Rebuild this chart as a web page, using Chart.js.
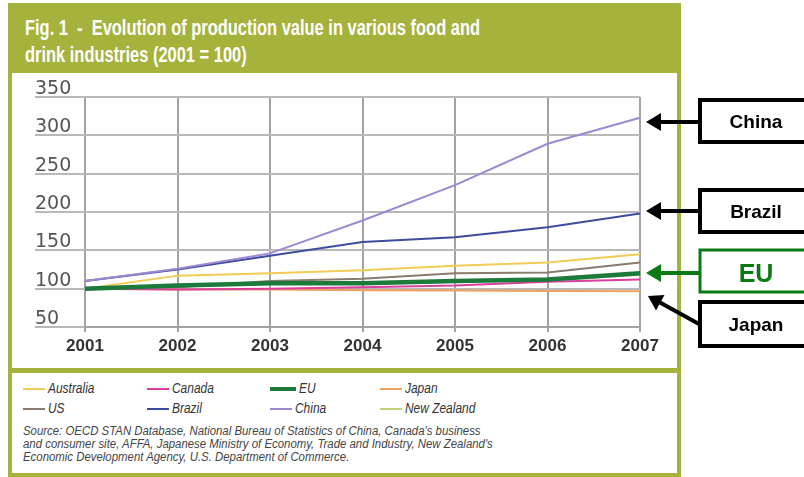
<!DOCTYPE html>
<html>
<head>
<meta charset="utf-8">
<script src="https://cdn.jsdelivr.net/npm/chart.js@4/dist/chart.umd.min.js"></script>
<style>
  body { margin: 0; width: 804px; height: 477px; background: #fff; position: relative; overflow: hidden; font-family: "Liberation Sans", Arial, sans-serif; }
  .frame { position: absolute; left: 8px; top: 3px; width: 673px; height: 474px; background: #a5b23c; }
  .title { position: absolute; left: 25px; top: 14px; color: #fff; font-weight: bold; font-size: 22px; line-height: 27px; }
  .title span { display: block; white-space: pre; transform-origin: 0 50%; }
  .plot { position: absolute; left: 12px; top: 73px; width: 665px; height: 295px; background: #fff; }
  .legend { position: absolute; left: 12px; top: 373px; width: 665px; height: 100px; background: #fff; }
  .key { position: absolute; height: 18px; }
  .key i { position: absolute; left: 0; }
  .key span { position: absolute; top: 0; font-style: italic; font-size: 15.5px; line-height: 18px; color: #333; white-space: nowrap; transform: scaleX(0.77); transform-origin: 0 50%; }
  .source { position: absolute; left: 11px; top: 52px; font-style: italic; font-size: 12px; line-height: 13px; color: #444; white-space: pre; transform: scaleX(0.95); transform-origin: 0 0; }
  svg { position: absolute; left: 0; top: 0; }
</style>
</head>
<body>
<div class="frame"></div>
<div class="title" id="title"><span>Fig. 1  -  Evolution of production value in various food and</span><span>drink industries (2001 = 100)</span></div>
<div class="plot"><canvas id="growthChart" width="665" height="295"></canvas></div>
<div class="legend" id="legend">
  <div class="source">Source: OECD STAN Database, National Bureau of Statistics of China, Canada's business
and consumer site, AFFA, Japanese Ministry of Economy, Trade and Industry, New Zealand's
Economic Development Agency, U.S. Department of Commerce.</div>
</div>
<svg width="804" height="477">
  <g font-family="Liberation Sans, Arial, sans-serif" font-weight="bold" text-anchor="middle">
    <rect x="700" y="100" width="112" height="42" fill="#fff" stroke="#000" stroke-width="4"/>
    <text x="756" y="128" font-size="19">China</text>
    <line x1="699" y1="122" x2="660" y2="122" stroke="#000" stroke-width="4"/>
    <polygon points="646,122 661,113 661,131" fill="#000"/>

    <rect x="700" y="190" width="112" height="42" fill="#fff" stroke="#000" stroke-width="4"/>
    <text x="756" y="218" font-size="19">Brazil</text>
    <line x1="699" y1="211" x2="660" y2="211" stroke="#000" stroke-width="4"/>
    <polygon points="646,211 661,202 661,220" fill="#000"/>

    <rect x="700" y="250" width="112" height="42" fill="#fff" stroke="#0a7a12" stroke-width="3"/>
    <text x="756" y="282" font-size="25" fill="#0a7a12">EU</text>
    <line x1="699" y1="273" x2="660" y2="273" stroke="#0a7a12" stroke-width="4"/>
    <polygon points="646,273 661,264 661,282" fill="#0a7a12"/>

    <rect x="700" y="302" width="112" height="44" fill="#fff" stroke="#000" stroke-width="4"/>
    <text x="756" y="331" font-size="19">Japan</text>
    <line x1="699" y1="324" x2="660" y2="302.5" stroke="#000" stroke-width="4"/>
    <polygon points="648,296 664.5,295 656,310.5" fill="#000"/>
  </g>
</svg>
<script>
  const years = ["2001", "2002", "2003", "2004", "2005", "2006", "2007"];

  const australia = [100, 117, 120, 124, 130, 134, 145];
  const canada = [100, 99, 100, 102, 104, 109, 112];
  const eu = [100, 104, 107, 107, 110, 112, 120];
  const japan = [100, 99, 99, 98, 97.5, 97, 96.5];
  const us = [100, 102, 110, 113, 120, 121, 134];
  const brazil = [110, 125, 143, 161, 167, 180, 198];
  const china = [110, 126, 146, 189, 235, 289, 323];
  const newZealand = [100, 103, 106, 106, 109, 111, 118];

  const yTicks = [50, 100, 150, 200, 250, 300, 350];

  // legend order (two rows of four)
  const series = [
    { name: "Australia", data: australia, color: "#f3cc55", width: 2 },
    { name: "Canada", data: canada, color: "#d9409e", width: 2 },
    { name: "EU", data: eu, color: "#1c7a3a", width: 4.5 },
    { name: "Japan", data: japan, color: "#eea160", width: 2 },
    { name: "US", data: us, color: "#8a7b6c", width: 2 },
    { name: "Brazil", data: brazil, color: "#3d4c9e", width: 2 },
    { name: "China", data: china, color: "#9d88d2", width: 2 },
    { name: "New Zealand", data: newZealand, color: "#c2d07e", width: 2 }
  ];

  // first dataset is painted last, so EU goes up front
  const drawOrder = ["EU", "Canada", "China", "Brazil", "Australia", "US", "Japan", "New Zealand"];

  // squeeze the title into its condensed width
  const titleLines = document.querySelectorAll("#title span");
  const titleScale = 455 / titleLines[0].getBoundingClientRect().width;
  titleLines.forEach(l => { l.style.transform = `scaleX(${titleScale})`; });

  const legendCols = [11, 135, 258, 368];
  const legend = document.getElementById("legend");
  series.forEach((s, i) => {
    const key = document.createElement("div");
    key.className = "key";
    key.style.left = legendCols[i % 4] + "px";
    key.style.top = (i < 4 ? 6 : 26) + "px";
    const w = s.name === "EU" ? 26 : 22;
    const h = s.width > 3 ? 4 : 2;
    key.innerHTML = `<i style="width:${w}px;height:${h}px;top:${10 - h / 2}px;background:${s.color}"></i>` +
      `<span style="left:${w + 3}px">${s.name}</span>`;
    legend.appendChild(key);
  });

  const datasets = drawOrder.map(n => {
    const s = series.find(x => x.name === n);
    return {
      label: s.name,
      data: s.data,
      borderColor: s.color,
      borderWidth: s.width,
      pointRadius: 0,
      tension: 0,
      fill: false
    };
  });

  new Chart(document.getElementById("growthChart"), {
    type: "line",
    data: { labels: years, datasets },
    options: {
      responsive: false,
      animation: false,
      layout: { padding: { left: 23, top: 24, right: 37, bottom: 11 } },
      plugins: { legend: { display: false }, tooltip: { enabled: false } },
      scales: {
        x: {
          grid: { color: "#a3a3a3", lineWidth: 2, tickLength: 5 },
          border: { display: true, color: "#a3a3a3", width: 2 },
          ticks: { color: "#333", padding: 4, font: { family: "Liberation Sans", size: 17, weight: "bold" } },
          afterFit: scale => { scale.height = 30; }
        },
        y: {
          min: 50,
          max: 350,
          afterBuildTicks: scale => { scale.ticks = yTicks.map(v => ({ value: v })); },
          grid: { color: "#b8b8b8", lineWidth: 2, tickLength: 50 },
          border: { display: false },
          ticks: {
            color: "#555",
            padding: 0,
            crossAlign: "far",
            labelOffset: -8,
            font: { family: "DejaVu Sans", size: 19 }
          },
          afterFit: scale => { scale.width = 50; }
        }
      }
    }
  });
</script>
</body>
</html>
